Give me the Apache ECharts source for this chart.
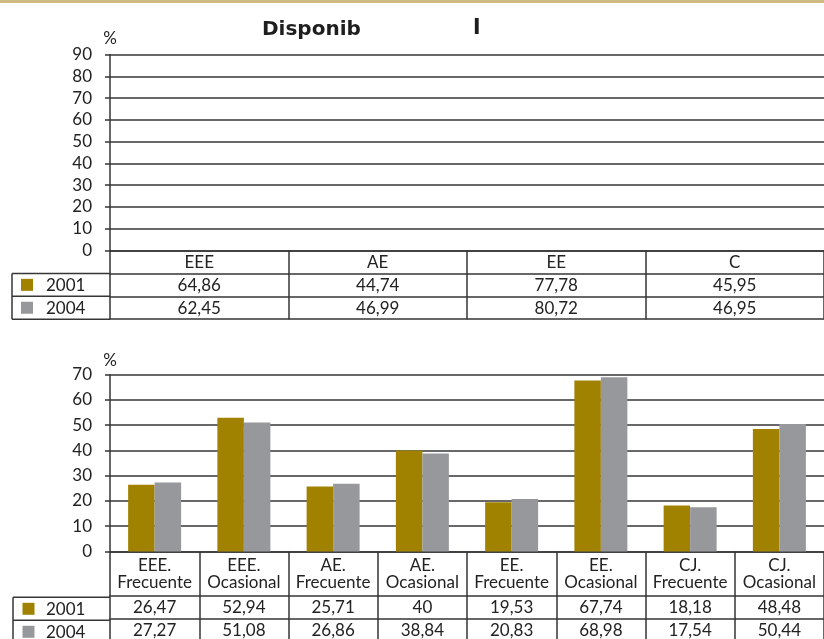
<!DOCTYPE html>
<html>
<head>
<meta charset="utf-8">
<title>Disponibilidad</title>
<script src="https://cdn.jsdelivr.net/npm/echarts@6/dist/echarts.min.js"></script>
<style>
  html, body { margin: 0; padding: 0; background: #fff; }
  #chart { width: 824px; height: 639px; }
</style>
</head>
<body>
<div id="chart"></div>
<script>
// top chart (only the table has values, no bars visible in the source)
var topCats = ['EEE', 'AE', 'EE', 'C'];
var top2001 = [64.86, 44.74, 77.78, 45.95];
var top2004 = [62.45, 46.99, 80.72, 46.95];
var topTicks = [0, 10, 20, 30, 40, 50, 60, 70, 80, 90];

// bottom chart
var botCats = ['EEE.\nFrecuente', 'EEE.\nOcasional', 'AE.\nFrecuente', 'AE.\nOcasional',
  'EE.\nFrecuente', 'EE.\nOcasional', 'CJ.\nFrecuente', 'CJ.\nOcasional'];
var bot2001 = [26.47, 52.94, 25.71, 40, 19.53, 67.74, 18.18, 48.48];
var bot2004 = [27.27, 51.08, 26.86, 38.84, 20.83, 68.98, 17.54, 50.44];
var botTicks = [0, 10, 20, 30, 40, 50, 60, 70];

var years = ['2001', '2004'];
var yearColors = ['#a18200', '#97989c'];
var titleParts = ['Disponib', 'l'];

var LINE = '#363636';
var LW = 1.5;
var FONT = 'Lato';
var FS = 17;
var TXT = '#222';

// layout
var topG = { left: 110, top: 54.5, width: 726.7, height: 196 };
var topRow = 22.9;
var botG = { left: 110, top: 374.7, width: 724.6, height: 178.6 };
var botHead = 44, botRow = 23;

function fmt(v) { return String(v).replace('.', ','); }

function rowAxis(grid, cats, offset, tickLen, labels, rowH) {
  return {
    type: 'category', gridIndex: grid, position: 'bottom', offset: offset,
    data: cats,
    axisLine: { onZero: false, lineStyle: { color: LINE, width: LW } },
    axisTick: { show: tickLen > 0, interval: 0, length: tickLen, lineStyle: { color: LINE, width: LW } },
    axisLabel: {
      show: !!labels, interval: 0, margin: rowH / 2 + 0.5, verticalAlign: 'middle',
      fontFamily: FONT, fontSize: FS, color: TXT, lineHeight: 17,
      formatter: function (v, i) { return labels ? labels[i] : ''; }
    },
    splitLine: { show: false }
  };
}

function valAxis(grid, ticks, nameGap) {
  return {
    type: 'value', gridIndex: grid,
    min: ticks[0], max: ticks[ticks.length - 1], interval: ticks[1] - ticks[0],
    name: '%', nameLocation: 'end', nameGap: nameGap,
    nameTextStyle: { fontFamily: FONT, fontSize: 17, color: TXT },
    axisLine: { show: true, lineStyle: { color: LINE, width: LW } },
    axisTick: { show: true, length: 5, lineStyle: { color: LINE, width: LW } },
    axisLabel: { margin: 18, fontFamily: FONT, fontSize: FS, color: TXT },
    splitLine: { show: true, lineStyle: { color: LINE, width: LW } }
  };
}

function boxLines(x0, x1, ys) {
  var els = [];
  ys.forEach(function (y) {
    els.push({ type: 'line', shape: { x1: x0, y1: y, x2: x1, y2: y }, style: { stroke: LINE, lineWidth: LW } });
  });
  els.push({ type: 'line', shape: { x1: x0, y1: ys[0], x2: x0, y2: ys[ys.length - 1] }, style: { stroke: LINE, lineWidth: LW } });
  return els;
}

function legendItems(sqX, txtX, centers) {
  var els = [];
  years.forEach(function (y, i) {
    els.push({ type: 'rect', shape: { x: sqX, y: centers[i] - 6, width: 12, height: 12 }, style: { fill: yearColors[i] } });
    els.push({ type: 'text', style: { text: y, x: txtX, y: centers[i] + 1, font: FS + 'px Lato', fill: TXT,
      verticalAlign: 'middle', textVerticalAlign: 'middle' } });
  });
  return els;
}

var topBottom = topG.top + topG.height;
var botBottom = botG.top + botG.height;

var graphics = [
  { type: 'rect', shape: { x: 0, y: 0, width: 824, height: 3 }, style: { fill: '#cfbb82' } },
  { type: 'text', style: { text: titleParts[0], x: 262, y: 29.5, font: 'bold 20px "DejaVu Sans"', fill: '#1e1e1e', verticalAlign: 'middle', textVerticalAlign: 'middle' } },
  { type: 'text', style: { text: titleParts[1], x: 473, y: 28.5, font: 'bold 22px "DejaVu Sans"', fill: '#1e1e1e', verticalAlign: 'middle', textVerticalAlign: 'middle' } }
]
  .concat(boxLines(12, 110, [topBottom + topRow, topBottom + topRow * 2, topBottom + topRow * 3]))
  .concat(legendItems(21, 46, [topBottom + topRow * 1.5, topBottom + topRow * 2.5]))
  .concat(boxLines(13, 110, [botBottom + botHead, botBottom + botHead + botRow, botBottom + botHead + botRow * 2]))
  .concat(legendItems(22.5, 46, [botBottom + botHead + botRow * 0.5, botBottom + botHead + botRow * 1.5]));

var chart = echarts.init(document.getElementById('chart'));
chart.setOption({
  animation: false,
  textStyle: { fontFamily: FONT },
  grid: [topG, botG],
  xAxis: [
    rowAxis(0, topCats, 0, topRow, topCats, topRow),
    rowAxis(0, topCats, topRow, topRow, top2001.map(fmt), topRow),
    rowAxis(0, topCats, topRow * 2, topRow, top2004.map(fmt), topRow),
    rowAxis(0, topCats, topRow * 3, 0, null, topRow),
    rowAxis(1, botCats, 0, botHead, botCats, botHead),
    rowAxis(1, botCats, botHead, botRow, bot2001.map(fmt), botRow),
    rowAxis(1, botCats, botHead + botRow, botRow, bot2004.map(fmt), botRow),
    rowAxis(1, botCats, botHead + botRow * 2, 0, null, botRow)
  ],
  yAxis: [valAxis(0, topTicks, 7), valAxis(1, botTicks, 6)],
  graphic: graphics,
  series: [
    { name: years[0], type: 'bar', xAxisIndex: 4, yAxisIndex: 1, data: bot2001, barWidth: 26.5, barGap: '0%',
      itemStyle: { color: yearColors[0] }, silent: true },
    { name: years[1], type: 'bar', xAxisIndex: 4, yAxisIndex: 1, data: bot2004, barWidth: 26.5, barGap: '0%',
      itemStyle: { color: yearColors[1] }, silent: true }
  ]
});
</script>
</body>
</html>
